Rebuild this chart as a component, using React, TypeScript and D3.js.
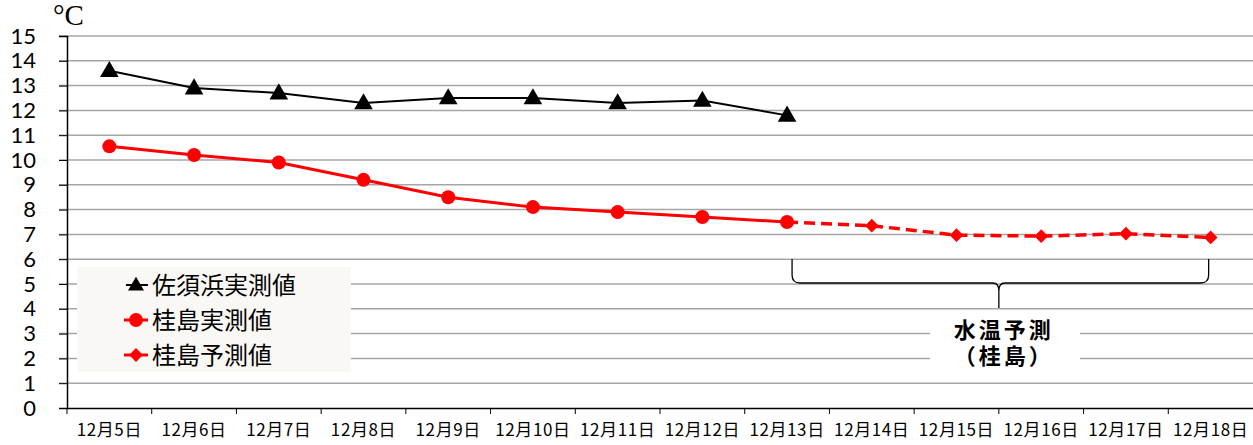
import React, { useEffect, useRef } from 'react';
import * as d3 from 'd3';

// categories (days)
const days = ['12月5日', '12月6日', '12月7日', '12月8日', '12月9日', '12月10日', '12月11日',
  '12月12日', '12月13日', '12月14日', '12月15日', '12月16日', '12月17日', '12月18日'];

// measured at Sasuhama (12/5 - 12/13)
const sasuhamaObs = [13.6, 12.9, 12.7, 12.3, 12.5, 12.5, 12.3, 12.4, 11.8];
// measured at Katsushima (12/5 - 12/13)
const katsuObs = [10.55, 10.2, 9.9, 9.2, 8.5, 8.1, 7.9, 7.7, 7.5];
// forecast at Katsushima (12/13 - 12/18)
const katsuFcDays = ['12月13日', '12月14日', '12月15日', '12月16日', '12月17日', '12月18日'];
const katsuFc = [7.5, 7.35, 6.97, 6.93, 7.03, 6.88];

const yTicks = d3.range(0, 16);

const legendItems = ['佐須浜実測値', '桂島実測値', '桂島予測値'];

const W = 1253;
const H = 445;

const App = () => {
  const svgRef = useRef<SVGSVGElement>(null);

  useEffect(() => {
    const svg = d3.select(svgRef.current);
    svg.selectAll('*').remove();

    const margin = { top: 36, right: 0, bottom: 37, left: 67 };
    const innerH = H - margin.top - margin.bottom;

    const x = d3.scaleBand().domain(days).range([margin.left, W - margin.right]);
    const y = d3.scaleLinear().domain([0, 15]).range([margin.top + innerH, margin.top]);
    const cx = (d: string) => (x(d) as number) + x.bandwidth() / 2;

    // gridlines
    svg.append('g')
      .selectAll('line')
      .data(yTicks.filter(t => t > 0))
      .enter()
      .append('line')
      .attr('x1', margin.left - 8)
      .attr('x2', W)
      .attr('y1', d => y(d))
      .attr('y2', d => y(d))
      .attr('stroke', '#a6a6a6')
      .attr('stroke-width', 1.5);

    // y axis
    const yAxis = svg.append('g')
      .attr('transform', `translate(${margin.left},0)`)
      .call(d3.axisLeft(y).tickValues(yTicks).tickSize(8).tickFormat(d3.format('d')));
    yAxis.select('.domain').attr('stroke', '#000').attr('stroke-width', 1.5);
    yAxis.selectAll('.tick line').attr('stroke', '#000').attr('stroke-width', 1);
    yAxis.selectAll('.tick text')
      .attr('x', -31)
      .attr('font-family', 'Lato, "Noto Sans", sans-serif')
      .attr('font-size', 22)
      .attr('fill', '#000');

    // x axis
    const xAxis = svg.append('g')
      .attr('transform', `translate(0,${y(0)})`)
      .call(d3.axisBottom(x).tickSize(0).tickPadding(16));
    xAxis.select('.domain').attr('stroke', '#000').attr('stroke-width', 1.5);
    xAxis.selectAll('.tick text')
      .attr('font-family', '"Noto Sans CJK JP", sans-serif')
      .attr('font-size', 17)
      .attr('letter-spacing', 0.6)
      .attr('fill', '#000');
    // boundary ticks between categories
    svg.append('g')
      .selectAll('line')
      .data(days)
      .enter()
      .append('line')
      .attr('x1', d => x(d) as number)
      .attr('x2', d => x(d) as number)
      .attr('y1', y(0))
      .attr('y2', y(0) + 6)
      .attr('stroke', '#000');

    // unit label
    svg.append('text')
      .attr('x', 53)
      .attr('y', 25)
      .attr('font-family', '"Liberation Serif", serif')
      .attr('font-size', 29)
      .text('°C');

    const line = d3.line<[string, number]>().x(d => cx(d[0])).y(d => y(d[1]));
    const tri = d3.symbol().type(d3.symbolTriangle).size(150);
    const dia = d3.symbol().type(d3.symbolSquare).size(95);

    // Sasuhama
    const sData = sasuhamaObs.map((v, i) => [days[i], v] as [string, number]);
    svg.append('path').datum(sData).attr('d', line)
      .attr('fill', 'none').attr('stroke', '#000').attr('stroke-width', 2);
    svg.append('g').selectAll('path').data(sData).enter().append('path')
      .attr('d', tri)
      .attr('transform', d => `translate(${cx(d[0])},${y(d[1]) + 1})`)
      .attr('fill', '#000');

    // Katsushima forecast (dashed)
    const fData = katsuFc.map((v, i) => [katsuFcDays[i], v] as [string, number]);
    svg.append('path').datum(fData).attr('d', line)
      .attr('fill', 'none').attr('stroke', '#ff0000').attr('stroke-width', 3.5)
      .attr('stroke-dasharray', '11,6');
    svg.append('g').selectAll('path').data(fData.slice(1)).enter().append('path')
      .attr('d', dia)
      .attr('transform', d => `translate(${cx(d[0])},${y(d[1])}) rotate(45)`)
      .attr('fill', '#ff0000');

    // Katsushima observed
    const kData = katsuObs.map((v, i) => [days[i], v] as [string, number]);
    svg.append('path').datum(kData).attr('d', line)
      .attr('fill', 'none').attr('stroke', '#ff0000').attr('stroke-width', 3);
    svg.append('g').selectAll('circle').data(kData).enter().append('circle')
      .attr('cx', d => cx(d[0]))
      .attr('cy', d => y(d[1]))
      .attr('r', 7)
      .attr('fill', '#ff0000');

    // legend
    const lg = svg.append('g');
    lg.append('rect')
      .attr('x', 77).attr('y', 267).attr('width', 274).attr('height', 105)
      .attr('fill', '#f9f8f5');
    legendItems.forEach((name, i) => {
      const ly = 285 + i * 35;
      const color = i === 0 ? '#000' : '#ff0000';
      lg.append('line')
        .attr('x1', i === 0 ? 126 : 124).attr('x2', 148).attr('y1', ly).attr('y2', ly)
        .attr('stroke', color).attr('stroke-width', i === 0 ? 2 : 3);
      const mark = lg.append('path').attr('fill', color)
        .attr('transform', `translate(136,${ly + (i === 0 ? 1 : 0)})${i === 2 ? ' rotate(45)' : ''}`);
      if (i === 0) mark.attr('d', d3.symbol().type(d3.symbolTriangle).size(110));
      else if (i === 1) mark.attr('d', d3.symbol().type(d3.symbolCircle).size(150));
      else mark.attr('d', dia);
      lg.append('text')
        .attr('x', 152).attr('y', ly)
        .attr('dy', '0.36em')
        .attr('font-family', '"Noto Sans CJK JP", sans-serif')
        .attr('font-size', 24)
        .attr('fill', '#000')
        .text(name);
    });

    // brace for forecast range
    const bx1 = cx('12月13日') + 5;
    const bx2 = cx('12月18日') - 2;
    const bm = cx('12月16日') - x.bandwidth() / 2;
    const by0 = 259, by1 = 283, by2 = 308;
    const brace = `M${bx1},${by0} L${bx1},${by1 - 8} Q${bx1},${by1} ${bx1 + 8},${by1}
      L${bm - 6},${by1} Q${bm},${by1} ${bm},${by1 + 8} L${bm},${by2}
      M${bm},${by1 + 8} Q${bm},${by1} ${bm + 6},${by1} L${bx2 - 8},${by1}
      Q${bx2},${by1} ${bx2},${by1 - 8} L${bx2},${by0}`;
    svg.append('path').attr('d', brace).attr('fill', 'none')
      .attr('stroke', '#000').attr('stroke-width', 1.3);

    svg.append('rect')
      .attr('x', 930).attr('y', 315).attr('width', 150).attr('height', 55)
      .attr('fill', '#fff');
    const lbl = svg.append('text')
      .attr('text-anchor', 'middle')
      .attr('font-family', '"Noto Sans CJK JP", sans-serif')
      .attr('font-size', 22)
      .attr('font-weight', 'bold')
      .attr('letter-spacing', 3)
      .attr('fill', '#000');
    lbl.append('tspan').attr('x', bm + 5).attr('y', 338).text('水温予測');
    lbl.append('tspan').attr('x', bm + 5).attr('y', 364).text('（桂島）');
  }, []);

  return (
    <svg ref={svgRef} width={W} height={H}
      style={{ position: 'absolute', left: 0, top: 0, background: '#fff' }} />
  );
};

export default App;
